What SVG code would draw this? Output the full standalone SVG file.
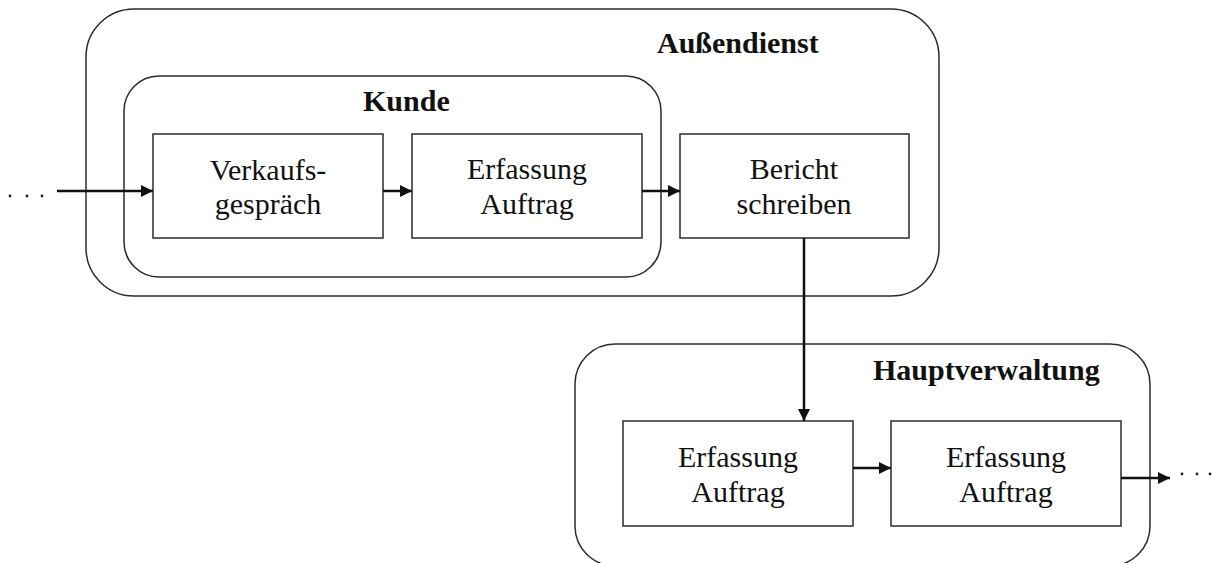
<svg xmlns="http://www.w3.org/2000/svg" width="1212" height="563" viewBox="0 0 1212 563">
  <style>
    .lane { fill: none; stroke: #2b2b2b; stroke-width: 1.5; }
    .task { fill: #ffffff; stroke: #2b2b2b; stroke-width: 1.5; }
    .label { font-family: "Liberation Serif", "Times New Roman", serif; font-size: 30px; fill: #111; text-anchor: middle; }
    .title { font-family: "Liberation Serif", "Times New Roman", serif; font-size: 30px; font-weight: bold; fill: #111; }
    .flow { fill: none; stroke: #111; stroke-width: 2.5; marker-end: url(#arrow); }
    .dot { fill: #222; }
  </style>
  <defs>
    <marker id="arrow" viewBox="0 0 10 10" refX="10" refY="5" markerWidth="5" markerHeight="5" markerUnits="strokeWidth" orient="auto">
      <path d="M0,0 L10,5 L0,10 z" fill="#111"/>
    </marker>
  </defs>

  <!-- swimlane containers -->
  <g id="aussendienst">
    <rect class="lane" x="86" y="9" width="853" height="287" rx="48" ry="48"/>
    <text class="title" x="657" y="53">Außendienst</text>
  </g>
  <g id="kunde">
    <rect class="lane" x="124" y="76" width="537" height="201" rx="35" ry="35"/>
    <text class="title" x="363" y="111">Kunde</text>
  </g>
  <g id="hauptverwaltung">
    <rect class="lane" x="575" y="344" width="575" height="222" rx="40" ry="40"/>
    <text class="title" x="873" y="380">Hauptverwaltung</text>
  </g>

  <!-- tasks -->
  <g id="verkaufsgespraech">
    <rect class="task" x="153" y="134" width="230" height="104"/>
    <text class="label" x="268" y="180">Verkaufs-</text>
    <text class="label" x="268" y="214">gespräch</text>
  </g>
  <g id="erfassung-kunde">
    <rect class="task" x="412" y="134" width="230" height="104"/>
    <text class="label" x="527" y="179">Erfassung</text>
    <text class="label" x="527" y="214">Auftrag</text>
  </g>
  <g id="bericht">
    <rect class="task" x="680" y="134" width="229" height="104"/>
    <text class="label" x="794" y="179">Bericht</text>
    <text class="label" x="794" y="214">schreiben</text>
  </g>
  <g id="erfassung-hv-1">
    <rect class="task" x="623" y="421" width="230" height="105"/>
    <text class="label" x="738" y="467">Erfassung</text>
    <text class="label" x="738" y="502">Auftrag</text>
  </g>
  <g id="erfassung-hv-2">
    <rect class="task" x="891" y="421" width="230" height="105"/>
    <text class="label" x="1006" y="467">Erfassung</text>
    <text class="label" x="1006" y="502">Auftrag</text>
  </g>

  <!-- connectors -->
  <g id="connectors">
    <circle class="dot" cx="10" cy="196" r="1.4"/>
    <circle class="dot" cx="27" cy="196" r="1.4"/>
    <circle class="dot" cx="42" cy="196" r="1.4"/>
    <line class="flow" x1="57" y1="191" x2="153" y2="191"/>
    <line class="flow" x1="383" y1="191" x2="412" y2="191"/>
    <line class="flow" x1="642" y1="191" x2="680" y2="191"/>
    <line class="flow" x1="804" y1="238" x2="804" y2="421"/>
    <line class="flow" x1="853" y1="468" x2="891" y2="468"/>
    <line class="flow" x1="1121" y1="478" x2="1170" y2="478"/>
    <circle class="dot" cx="1182" cy="474" r="1.4"/>
    <circle class="dot" cx="1197" cy="474" r="1.4"/>
    <circle class="dot" cx="1210" cy="474" r="1.4"/>
  </g>
</svg>
